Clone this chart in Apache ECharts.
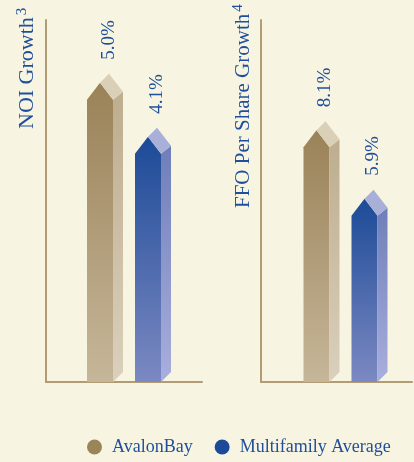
<!DOCTYPE html>
<html>
<head>
<meta charset="utf-8">
<style>
  html, body { margin: 0; padding: 0; background: #f7f4e1; }
  #chart { width: 414px; height: 462px; }
</style>
<script src="https://cdn.jsdelivr.net/npm/echarts@6/dist/echarts.min.js"></script>
</head>
<body>
<div id="chart"></div>
<script>
// Growth metrics, one panel each
const metrics = ['NOI Growth', 'FFO Per Share Growth'];
const footnotes = ['3', '4'];
const companies = ['AvalonBay', 'Multifamily Average'];
const avalonBay = [5.0, 8.1];     // % per metric
const multifamily = [4.1, 5.9];   // % per metric
const axisMax = [6.05, 11.65];

const TEXT_BLUE = '#1f4f9c';
const FONT = '"Liberation Serif", "DejaVu Serif", serif';

// Face colours for each company's prism-shaped bar
const palette = {
  AvalonBay: {
    legend: '#9c8459',
    front: ['#9a8258', '#c6b699'],
    side: ['#bead8e', '#dad0bc'],
    roof: '#dacfb7'
  },
  'Multifamily Average': {
    legend: '#1d4a98',
    front: ['#1c4a97', '#7c89c2'],
    side: ['#6f7eb9', '#a9afdd'],
    roof: '#a8afd9'
  }
};

// horizontal nudges keeping the pair of bars close together in each panel
const panelNudge = [0, 4];
const titleSize = [22, 21];

function grad(c) {
  return { type: 'linear', x: 0, y: 0, x2: 0, y2: 1,
    colorStops: [{ offset: 0, color: c[0] }, { offset: 1, color: c[1] }] };
}

function makeRender(company, panel) {
  const pal = palette[company];
  return function (params, api) {
    const idx = api.value(0);
    const val = api.value(1);
    const peak = api.coord([idx, val]);
    const base = api.coord([idx, 0]);
    const band = api.size([1, 0])[0];
    const cx = peak[0] + (idx === 0 ? 1 : -1) * (band / 2 - 24) + panelNudge[panel];
    const py = peak[1];
    const by = base[1];
    const hw = 13, rise = 17, dx = 10, dy = -8;
    return {
      type: 'group',
      children: [
        { type: 'polygon',
          shape: { points: [[cx - hw, by], [cx - hw, py + rise], [cx, py], [cx + hw, py + rise], [cx + hw, by]] },
          style: { fill: grad(pal.front) } },
        { type: 'polygon',
          shape: { points: [[cx + hw, py + rise], [cx + hw + dx, py + rise + dy], [cx + hw + dx, by + dy - 2], [cx + hw, by]] },
          style: { fill: grad(pal.side) } },
        { type: 'polygon',
          shape: { points: [[cx, py], [cx + dx - 1, py + dy - 1], [cx + hw + dx, py + rise + dy], [cx + hw, py + rise]] },
          style: { fill: pal.roof } },
        { type: 'text',
          x: cx + 9, y: py - 23, rotation: Math.PI / 2,
          style: { text: val.toFixed(1) + '%', align: 'left', verticalAlign: 'middle',
            font: '19px ' + FONT, fill: TEXT_BLUE } }
      ]
    };
  };
}

const series = [];
metrics.forEach(function (m, p) {
  series.push({
    name: companies[0], type: 'custom', xAxisIndex: p, yAxisIndex: p,
    itemStyle: { color: palette[companies[0]].legend },
    renderItem: makeRender(companies[0], p),
    data: [[0, avalonBay[p]]]
  });
  series.push({
    name: companies[1], type: 'custom', xAxisIndex: p, yAxisIndex: p,
    itemStyle: { color: palette[companies[1]].legend },
    renderItem: makeRender(companies[1], p),
    data: [[1, multifamily[p]]]
  });
});

const axisLine = { show: true, lineStyle: { color: '#b19c74', width: 2 } };

const option = {
  backgroundColor: '#f7f4e1',
  animation: false,
  grid: [
    { left: 46, top: 20, width: 156, height: 362 },
    { left: 261, top: 20, width: 151, height: 362 }
  ],
  xAxis: metrics.map(function (m, p) {
    return { type: 'category', gridIndex: p, data: companies,
      axisLine: axisLine, axisTick: { show: false }, axisLabel: { show: false } };
  }),
  yAxis: metrics.map(function (m, p) {
    return { type: 'value', gridIndex: p, min: 0, max: axisMax[p],
      axisLine: axisLine, axisTick: { show: false }, axisLabel: { show: false },
      splitLine: { show: false } };
  }),
  legend: {
    data: companies,
    left: 82, top: 433,
    icon: 'circle', itemWidth: 15, itemHeight: 15, itemGap: 22,
    textStyle: { color: TEXT_BLUE, fontFamily: FONT, fontSize: 18, padding: [0, 0, 0, 5] }
  },
  graphic: metrics.map(function (m, p) {
    return {
      type: 'text', x: p === 0 ? 27 : 243, y: p === 0 ? 129 : 208, rotation: Math.PI / 2,
      style: {
        text: '{m|' + m + '}{s|' + footnotes[p] + '}',
        align: 'left', verticalAlign: 'middle', fill: TEXT_BLUE,
        rich: {
          m: { fontFamily: FONT, fontSize: titleSize[p], color: TEXT_BLUE, lineHeight: 24 },
          s: { fontFamily: FONT, fontSize: 15, color: TEXT_BLUE, verticalAlign: 'top', lineHeight: 24, padding: [0, 0, 12, 2] }
        }
      }
    };
  }),
  series: series
};

echarts.init(document.getElementById('chart')).setOption(option);
</script>
</body>
</html>
